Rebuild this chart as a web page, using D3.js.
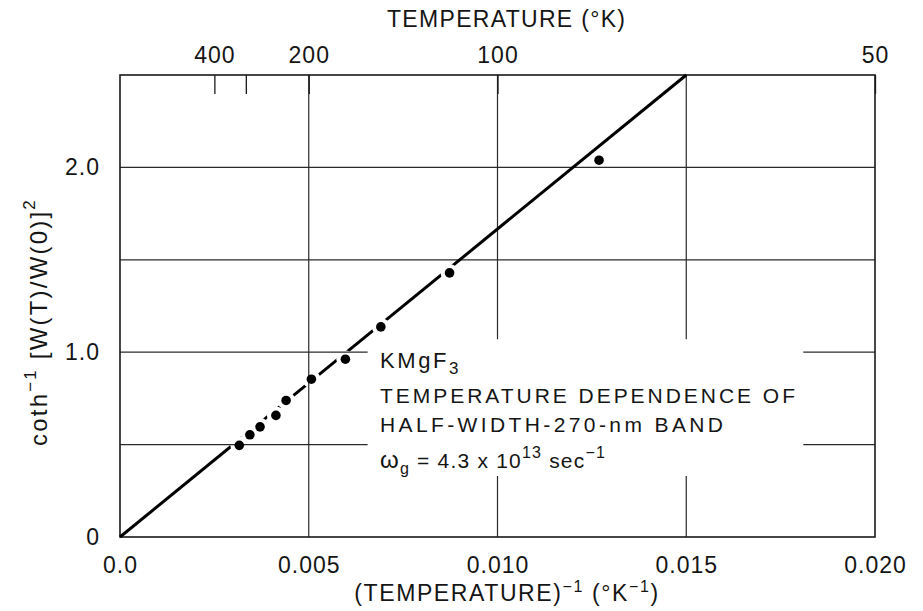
<!DOCTYPE html>
<html><head><meta charset="utf-8">
<script src="https://cdn.jsdelivr.net/npm/d3@7"></script>
<style>
body{margin:0;background:#fff}
svg text{font-family:"Liberation Sans",Arial,sans-serif;fill:#151515}
</style></head><body>
<svg id="chart" width="923" height="611"></svg>
<script>
// Measured half-width data: reciprocal temperature (K^-1) and coth^-1 [W(T)/W(0)]^2
const invTemp   = [0.00316, 0.00344, 0.00371, 0.00413, 0.00440, 0.00507, 0.00597, 0.00691, 0.00873, 0.01269];
const cothValue = [0.496,   0.553,   0.596,   0.658,   0.739,   0.854,   0.962,   1.137,   1.429,   2.039];

// Straight-line fit through the origin
const fitInvTemp = [0, 0.015];
const fitCoth    = [0, 2.5];

// Axis ticks
const xTicks = [0, 0.005, 0.010, 0.015, 0.020];
const xTickLabels = ["0.0", "0.005", "0.010", "0.015", "0.020"];
const yTicks = [0, 1, 2];
const yTickLabels = ["0", "1.0", "2.0"];
const xGrid = [0.005, 0.010, 0.015];
const yGrid = [0.5, 1.0, 1.5, 2.0];
const tempTicks = [400, 300, 200, 100, 50];
const tempTickLabels = ["400", "", "200", "100", "50"];

const svg = d3.select("#chart");
const plotLeft = 120, plotRight = 875, plotTop = 75, plotBottom = 537;
const x = d3.scaleLinear().domain([0, 0.02]).range([plotLeft, plotRight]);
const y = d3.scaleLinear().domain([0, 2.5]).range([plotBottom, plotTop]);

// Grid
const grid = svg.append("g").attr("stroke", "#2a2a2a").attr("stroke-width", 1.2);
grid.selectAll(".vg").data(xGrid).join("line")
  .attr("x1", d => x(d)).attr("x2", d => x(d)).attr("y1", plotTop).attr("y2", plotBottom);
grid.selectAll(".hg").data(yGrid).join("line")
  .attr("x1", plotLeft).attr("x2", plotRight).attr("y1", d => y(d)).attr("y2", d => y(d));

// Clear panel behind the annotation text
svg.append("rect")
  .attr("x", x(0.00656)).attr("y", y(1.07))
  .attr("width", x(0.0181) - x(0.00656)).attr("height", y(0.33) - y(1.07))
  .attr("fill", "#fff");

// Frame
svg.append("rect").attr("x", plotLeft).attr("y", plotTop)
  .attr("width", plotRight - plotLeft).attr("height", plotBottom - plotTop)
  .attr("fill", "none").attr("stroke", "#1a1a1a").attr("stroke-width", 1.6);

// Fit line, broken around each data point
const pts = invTemp.map((v, i) => ({ x: v, y: cothValue[i] }));
const mask = svg.append("defs").append("mask").attr("id", "gaps")
  .attr("maskUnits", "userSpaceOnUse").attr("x", 0).attr("y", 0).attr("width", 923).attr("height", 611);
mask.append("rect").attr("width", 923).attr("height", 611).attr("fill", "#fff");
mask.selectAll("circle").data(pts).join("circle")
  .attr("cx", d => x(d.x)).attr("cy", d => y(d.y)).attr("r", 9).attr("fill", "#000");

const fit = fitInvTemp.map((v, i) => ({ x: v, y: fitCoth[i] }));
svg.append("path").datum(fit)
  .attr("d", d3.line().x(d => x(d.x)).y(d => y(d.y)))
  .attr("fill", "none").attr("stroke", "#000").attr("stroke-width", 3)
  .attr("mask", "url(#gaps)");

// Data points
svg.append("g").selectAll("circle").data(pts).join("circle")
  .attr("cx", d => x(d.x)).attr("cy", d => y(d.y)).attr("r", 4.8).attr("fill", "#000");

// Axes
const fs = 23;
const xAxis = svg.append("g").attr("transform", `translate(0,${plotBottom})`)
  .call(d3.axisBottom(x).tickValues(xTicks).tickSize(0).tickPadding(20)
    .tickFormat((d, i) => xTickLabels[i]));
const yAxis = svg.append("g").attr("transform", `translate(${plotLeft},0)`)
  .call(d3.axisLeft(y).tickValues(yTicks).tickSize(0).tickPadding(20)
    .tickFormat((d, i) => yTickLabels[i]));
const tAxis = svg.append("g").attr("transform", `translate(0,${plotTop})`)
  .call(d3.axisTop(x).tickValues(tempTicks.map(t => 1 / t)).tickSize(-19).tickPadding(12)
    .tickFormat((d, i) => tempTickLabels[i]));
[xAxis, yAxis, tAxis].forEach(a => {
  a.select(".domain").remove();
  a.selectAll("text").attr("font-size", fs).attr("fill", "#151515")
    .style("font-family", "'Liberation Sans', Arial, sans-serif").attr("letter-spacing", 1);
  a.selectAll("line").attr("stroke", "#1a1a1a").attr("stroke-width", 1.3);
});

// Axis titles
svg.append("text").attr("x", 506).attr("y", 27).attr("text-anchor", "middle")
  .attr("font-size", fs).attr("textLength", 238).attr("lengthAdjust", "spacing")
  .text("TEMPERATURE (°K)");

const xt = svg.append("text").attr("x", 507).attr("y", 601).attr("text-anchor", "middle")
  .attr("font-size", fs).attr("letter-spacing", 1.6);
xt.append("tspan").text("(TEMPERATURE)");
xt.append("tspan").attr("dy", -9).attr("font-size", 16).text("−1");
xt.append("tspan").attr("dy", 9).text("  (°K");
xt.append("tspan").attr("dy", -9).attr("font-size", 16).text("−1");
xt.append("tspan").attr("dy", 9).text(")");

const yt = svg.append("text").attr("transform", "translate(47,322) rotate(-90)")
  .attr("text-anchor", "middle").attr("font-size", 24).attr("letter-spacing", 2.2);
yt.append("tspan").text("coth");
yt.append("tspan").attr("dy", -11).attr("font-size", 17).text("−1");
yt.append("tspan").attr("dy", 11).text(" [W(T)/W(0)]");
yt.append("tspan").attr("dy", -12).attr("font-size", 17).text("2");

// Annotation
const ax = 380, afs = 21;
const a1 = svg.append("text").attr("x", ax).attr("y", 368).attr("font-size", 22).attr("letter-spacing", 2.6);
a1.append("tspan").text("KMgF");
a1.append("tspan").attr("dy", 6).attr("font-size", 17).text("3");
svg.append("text").attr("x", ax).attr("y", 403).attr("font-size", afs)
  .attr("textLength", 415).attr("lengthAdjust", "spacing").text("TEMPERATURE  DEPENDENCE  OF");
svg.append("text").attr("x", ax).attr("y", 432).attr("font-size", afs)
  .attr("textLength", 343).attr("lengthAdjust", "spacing").text("HALF-WIDTH-270-nm BAND");
const a4 = svg.append("text").attr("x", ax).attr("y", 468).attr("font-size", afs).attr("letter-spacing", 1.2);
a4.append("tspan").attr("font-size", 24).text("ω");
a4.append("tspan").attr("dy", 6).attr("font-size", 16).text("g");
a4.append("tspan").attr("dy", -6).text(" = 4.3 x 10");
a4.append("tspan").attr("dy", -10).attr("font-size", 16).text("13");
a4.append("tspan").attr("dy", 10).text("  sec");
a4.append("tspan").attr("dy", -10).attr("font-size", 16).text("−1");
</script>
</body></html>
